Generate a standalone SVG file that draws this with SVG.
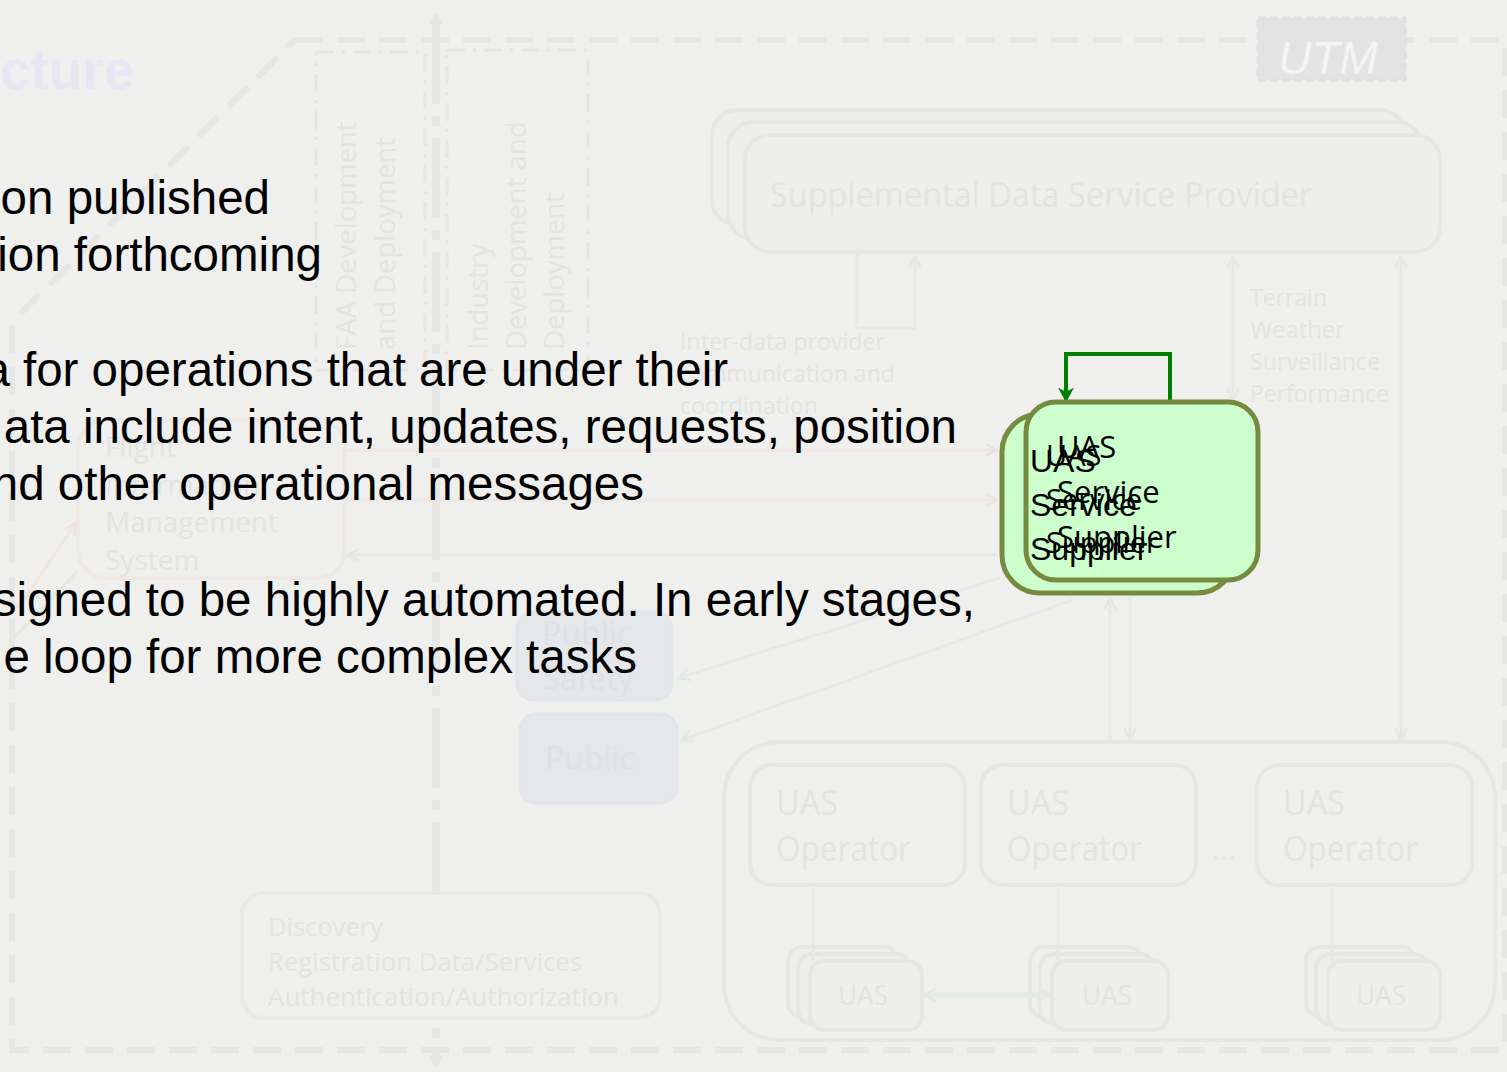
<svg xmlns="http://www.w3.org/2000/svg" width="1507" height="1072" viewBox="0 0 1507 1072">
<defs>
<style>
.bg{fill:#efefed}
.frame{fill:none;stroke:#e6e6e4;stroke-width:6;stroke-dasharray:28 14}
.dd{fill:none;stroke:#e5e5e3;stroke-width:3;stroke-dasharray:18 8 3 8}
.box{fill:none;stroke:#e6e7e4;stroke-width:4}
.boxf{fill:#eeeeec;stroke:#e6e7e4;stroke-width:4}
.ln{fill:none;stroke:#e4e9e3;stroke-width:3}
.lr{fill:none;stroke:#efe5e3;stroke-width:3}
.ft{font-family:"Open Sans","Noto Sans",sans-serif;fill:#e3e4e1}
.body{font-family:"Liberation Sans",Arial,sans-serif;font-size:47.5px;fill:#000;text-anchor:end}
.pub{fill:#e5e8ea;stroke:#e3e6e9;stroke-width:3}
.uss{fill:#ccffcc;stroke:#768a40;stroke-width:5}
</style>
<marker id="aG" viewBox="0 0 12 12" refX="11" refY="6" markerWidth="14" markerHeight="14" orient="auto-start-reverse" markerUnits="userSpaceOnUse"><path d="M1,1 L11,6 L1,11" fill="none" stroke="#e2e8e2" stroke-width="2"/></marker>
<marker id="aR" viewBox="0 0 12 12" refX="11" refY="6" markerWidth="14" markerHeight="14" orient="auto-start-reverse" markerUnits="userSpaceOnUse"><path d="M1,1 L11,6 L1,11" fill="none" stroke="#eee2e0" stroke-width="2"/></marker>
<marker id="aS" viewBox="0 0 12 12" refX="10" refY="6" markerWidth="16" markerHeight="16" orient="auto" markerUnits="userSpaceOnUse"><path d="M0,0 L11,6 L0,12 L3,6 z" fill="#008000"/></marker>
</defs>
<rect class="bg" x="0" y="0" width="1507" height="1072"/>

<g id="background-frame">
<path class="frame" d="M295,40 L1505,40 L1505,1050 L12,1050 L12,322 Z"/>
<path d="M436,24 V1058" fill="none" stroke="#e6e6e4" stroke-width="8" stroke-dasharray="80 12 10 12"/>
<path d="M436,12 L443,24 L429,24 Z" fill="#e6e6e4"/>
<path d="M436,1068 L443,1058 L436,1048 L429,1058 Z" fill="#e6e6e4"/>
<rect class="dd" x="316" y="52" width="109" height="318"/>
<rect class="dd" x="447" y="50" width="141" height="320"/>
<text class="ft" font-size="27.5" transform="translate(356,350) rotate(-90)">FAA Development</text>
<text class="ft" font-size="27.5" transform="translate(395,350) rotate(-90)">and Deployment</text>
<text class="ft" font-size="27.5" transform="translate(488,350) rotate(-90)">Industry</text>
<text class="ft" font-size="27.5" transform="translate(526,350) rotate(-90)">Development and</text>
<text class="ft" font-size="27.5" transform="translate(564,350) rotate(-90)">Deployment</text>
<text x="0" y="89" font-family="Liberation Sans,Arial,sans-serif" font-weight="bold" font-size="55" fill="#e7e7f3">cture</text>
</g>

<g id="utm">
<rect x="1258" y="18" width="147" height="62" fill="#e3e3e3" stroke="#e0e0e0" stroke-width="3" stroke-dasharray="8 4"/>
<text x="1328" y="74" text-anchor="middle" font-family="Liberation Sans,Arial,sans-serif" font-style="italic" font-size="46" fill="#f4f4f4">UTM</text>
</g>

<g id="sdsp">
<rect class="boxf" x="712" y="110" width="693" height="115" rx="25"/>
<rect class="boxf" x="728" y="122" width="694" height="117" rx="25"/>
<rect class="boxf" x="745" y="135" width="695" height="117" rx="25"/>
<text class="ft" x="770" y="207" font-size="34" textLength="542" lengthAdjust="spacingAndGlyphs">Supplemental Data Service Provider</text>
</g>

<g id="fims">
<rect x="78" y="420" width="267" height="158" rx="28" fill="none" stroke="#eee8e5" stroke-width="4"/>
<text class="ft" x="105" y="457" font-size="28">Flight</text>
<text class="ft" x="105" y="495" font-size="28">Information</text>
<text class="ft" x="105" y="532" font-size="28" textLength="173" lengthAdjust="spacingAndGlyphs">Management</text>
<text class="ft" x="105" y="570" font-size="28">System</text>
</g>

<g id="public-safety">
<rect class="pub" x="517" y="612" width="155" height="88" rx="16"/>
<text class="ft" x="542" y="645" font-size="32" style="fill:#dfe2e5">Public</text>
<text class="ft" x="542" y="690" font-size="32" style="fill:#dfe2e5">Safety</text>
</g>

<g id="public">
<rect class="pub" x="520" y="714" width="157" height="89" rx="16"/>
<text class="ft" x="545" y="770" font-size="32" style="fill:#dfe2e5">Public</text>
</g>

<g id="discovery">
<rect x="242" y="893" width="418" height="125" rx="22" fill="#efefed" stroke="#ebe7e4" stroke-width="4"/>
<text class="ft" x="268" y="936" font-size="25" textLength="115" lengthAdjust="spacingAndGlyphs">Discovery</text>
<text class="ft" x="268" y="971" font-size="25" textLength="314" lengthAdjust="spacingAndGlyphs">Registration Data/Services</text>
<text class="ft" x="268" y="1006" font-size="25" textLength="351" lengthAdjust="spacingAndGlyphs">Authentication/Authorization</text>
</g>

<g id="data-provider-labels">
<text class="ft" x="680" y="350" font-size="23" textLength="205" lengthAdjust="spacingAndGlyphs">Inter-data provider</text>
<text class="ft" x="680" y="382" font-size="23" textLength="215" lengthAdjust="spacingAndGlyphs">communication and</text>
<text class="ft" x="680" y="414" font-size="23" textLength="138" lengthAdjust="spacingAndGlyphs">coordination</text>
<text class="ft" x="1250" y="306" font-size="23" textLength="77" lengthAdjust="spacingAndGlyphs">Terrain</text>
<text class="ft" x="1250" y="338" font-size="23" textLength="95" lengthAdjust="spacingAndGlyphs">Weather</text>
<text class="ft" x="1250" y="370" font-size="23" textLength="130" lengthAdjust="spacingAndGlyphs">Surveillance</text>
<text class="ft" x="1250" y="402" font-size="23" textLength="139" lengthAdjust="spacingAndGlyphs">Performance</text>
</g>

<g id="operators">
<rect class="box" x="724" y="742" width="771" height="298" rx="55"/>
<rect class="box" x="750" y="765" width="215" height="120" rx="22"/>
<rect class="box" x="981" y="765" width="215" height="120" rx="22"/>
<rect class="box" x="1257" y="765" width="215" height="120" rx="22"/>
<text class="ft" x="776" y="815" font-size="34" textLength="62" lengthAdjust="spacingAndGlyphs">UAS</text>
<text class="ft" x="776" y="861" font-size="34" textLength="135" lengthAdjust="spacingAndGlyphs">Operator</text>
<text class="ft" x="1007" y="815" font-size="34" textLength="62" lengthAdjust="spacingAndGlyphs">UAS</text>
<text class="ft" x="1007" y="861" font-size="34" textLength="135" lengthAdjust="spacingAndGlyphs">Operator</text>
<text class="ft" x="1283" y="815" font-size="34" textLength="62" lengthAdjust="spacingAndGlyphs">UAS</text>
<text class="ft" x="1283" y="861" font-size="34" textLength="135" lengthAdjust="spacingAndGlyphs">Operator</text>
<text class="ft" x="1212" y="860" font-size="30">...</text>
</g>

<g id="uas-stacks">
<rect class="boxf" x="788" y="947" width="110" height="70" rx="14"/>
<rect class="boxf" x="798" y="954" width="112" height="70" rx="14"/>
<rect class="boxf" x="810" y="961" width="112" height="69" rx="14"/>
<text class="ft" x="838" y="1005" font-size="27" textLength="50" lengthAdjust="spacingAndGlyphs">UAS</text>
<rect class="boxf" x="1030" y="947" width="112" height="70" rx="14"/>
<rect class="boxf" x="1040" y="954" width="114" height="70" rx="14"/>
<rect class="boxf" x="1052" y="961" width="116" height="69" rx="14"/>
<text class="ft" x="1082" y="1005" font-size="27" textLength="50" lengthAdjust="spacingAndGlyphs">UAS</text>
<rect class="boxf" x="1306" y="947" width="110" height="70" rx="14"/>
<rect class="boxf" x="1316" y="954" width="112" height="70" rx="14"/>
<rect class="boxf" x="1328" y="961" width="112" height="69" rx="14"/>
<text class="ft" x="1356" y="1005" font-size="27" textLength="50" lengthAdjust="spacingAndGlyphs">UAS</text>
</g>

<g id="connectors">
<path class="ln" d="M857,252 V328 H915 V256" marker-end="url(#aG)"/>
<path class="ln" d="M1233,256 V400" marker-start="url(#aG)" marker-end="url(#aG)"/>
<path class="ln" d="M1401,256 V740" marker-start="url(#aG)" marker-end="url(#aG)"/>
<path class="lr" d="M345,450 H997" marker-end="url(#aR)"/>
<path class="lr" d="M345,500 H997" marker-end="url(#aR)"/>
<path class="ln" d="M997,555 H347" marker-end="url(#aG)"/>
<path class="ln" d="M1000,578 L678,678" marker-end="url(#aG)"/>
<path class="ln" d="M1072,600 L681,740" marker-end="url(#aG)"/>
<path class="ln" d="M1110,740 V598" marker-end="url(#aG)"/>
<path class="ln" d="M1130,598 V740" marker-end="url(#aG)"/>
<path class="lr" d="M18,608 L76,523" marker-end="url(#aR)"/>
<path class="ln" d="M10,642 L77,572"/>
<path class="ln" d="M813,885 V961"/>
<path class="ln" d="M1058,885 V961"/>
<path class="ln" d="M1332,885 V961"/>
<path d="M924,995 H1050" fill="none" stroke="#e4ebe3" stroke-width="5" marker-start="url(#aG)" marker-end="url(#aG)"/>
<path d="M1170,402 V354 H1066 V401" fill="none" stroke="#008000" stroke-width="4" marker-end="url(#aS)"/>
</g>

<g id="body-text">
<text class="body" x="270" y="214">on published</text>
<text class="body" x="322" y="271">ion forthcoming</text>
<text class="body" x="728" y="386">a for operations that are under their</text>
<text class="body" x="957" y="443">ata include intent, updates, requests, position</text>
<text class="body" x="644" y="500">nd other operational messages</text>
<text class="body" x="975" y="616">signed to be highly automated. In early stages,</text>
<text class="body" x="637" y="673">e loop for more complex tasks</text>
</g>

<g id="uss">
<rect class="uss" x="1002" y="414" width="233" height="179" rx="38"/>
<rect class="uss" x="1026" y="402" width="232" height="178" rx="30"/>
<g font-family="Liberation Sans,Arial,sans-serif" fill="#000">
<text x="1030" y="472" font-size="32">UAS</text>
<text x="1030" y="516" font-size="32">Service</text>
<text x="1030" y="560" font-size="32">Supplier</text>
</g>
<g font-family="Open Sans,Noto Sans,sans-serif" fill="#000">
<text x="1057" y="458" font-size="31">UAS</text>
<text x="1057" y="503" font-size="31">Service</text>
<text x="1057" y="548" font-size="31">Supplier</text>
<text x="1046" y="466" font-size="29">UAS</text>
<text x="1046" y="510" font-size="29">Service</text>
<text x="1046" y="553" font-size="29">Supplier</text>
</g>
</g>
</svg>
